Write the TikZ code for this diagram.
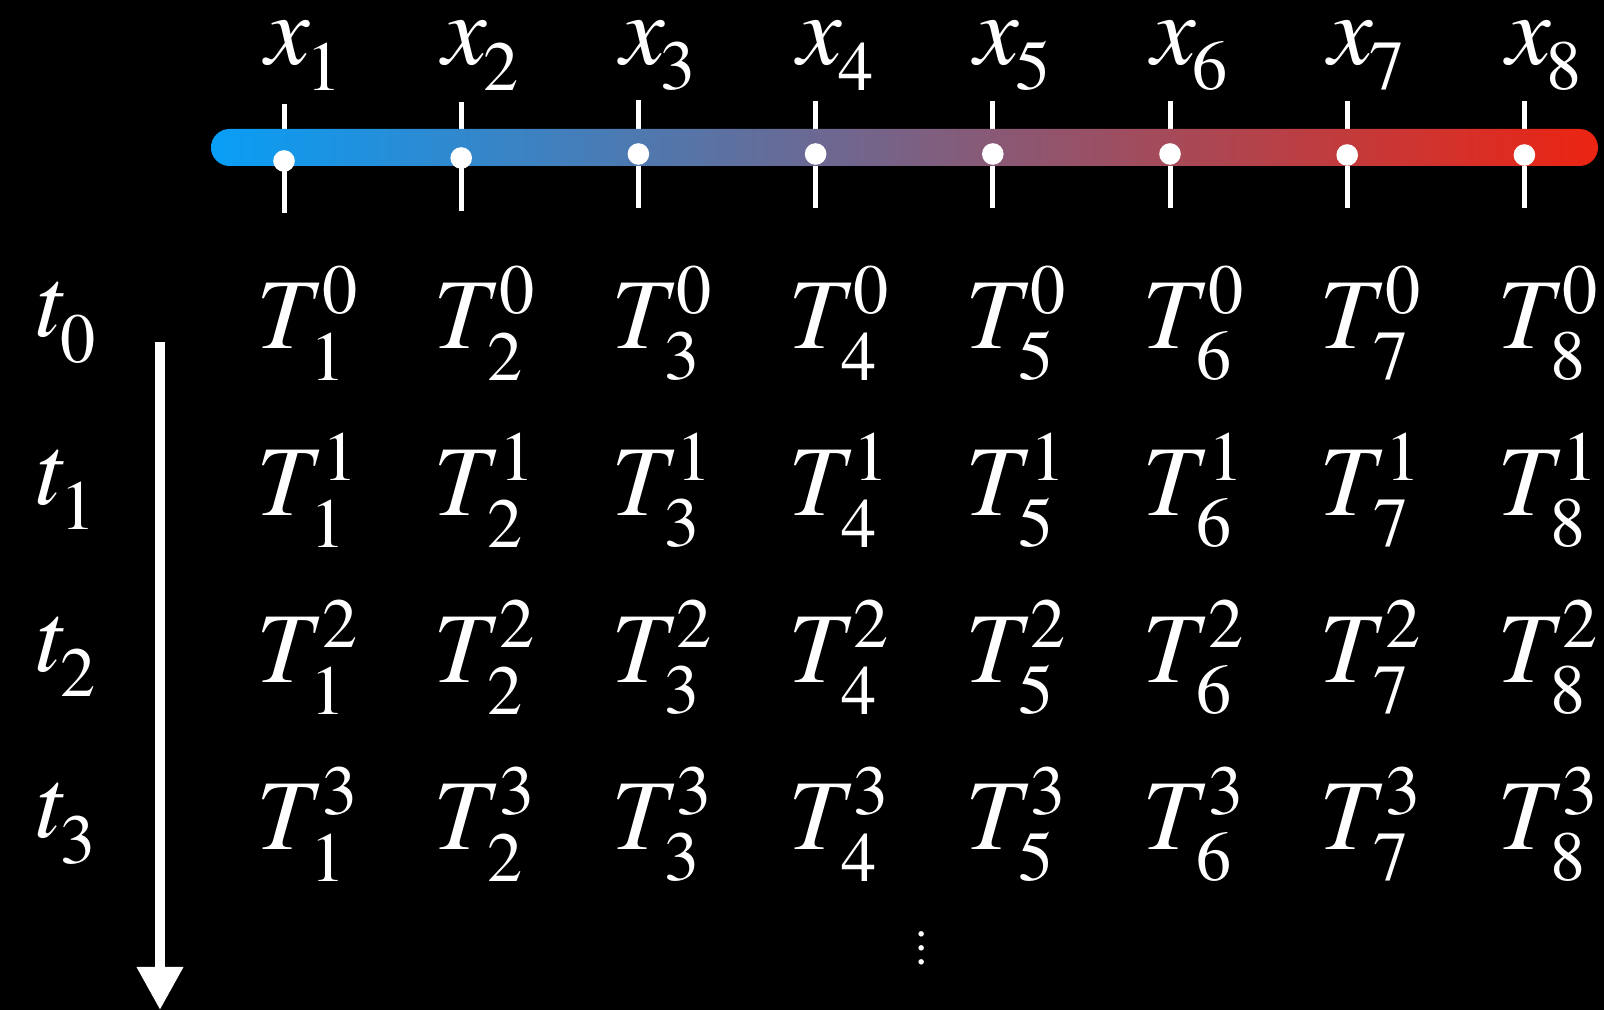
\RequirePackage{fix-cm}
\documentclass[tikz,border=0pt]{standalone}
\usepackage{fontspec}
\setmainfont{texgyretermes}[Extension=.otf, UprightFont=*-regular, ItalicFont=*-italic, BoldFont=*-bold, BoldItalicFont=*-bolditalic]
\usetikzlibrary{arrows.meta}

\definecolor{barbleu}{RGB}{8,158,246}
\definecolor{barrouge}{RGB}{236,36,18}

\newcommand{\petit}{\fontsize{20}{20}\selectfont}
\newcommand{\Tval}[2]{\textit{T}\kern-0.10em\rlap{\raisebox{-0.31em}{\petit #1}}\kern0.12em\raisebox{0.35em}{\petit #2}}
\newcommand{\xval}[1]{\textit{x}\kern-0.04em\raisebox{-0.25em}{\petit #1}}
\newcommand{\tval}[1]{\textit{t}\kern-0.04em\raisebox{-0.25em}{\petit #1}}

\begin{document}
\begin{tikzpicture}
        \tikzstyle{valeur} = [text=white, inner sep=0pt, font=\fontsize{28.5}{34}\selectfont, node distance=1.772cm]
        \tikzstyle{repere} = [draw=white, line width=0.05cm]
        \tikzstyle{point} = [fill=white]
        \tikzstyle{fleche} = [draw=white, line width=0.1cm, -{Triangle[length=0.43cm,width=0.44cm]}]
        \fill[black] (0,0) rectangle (16.04,10.10);
        \useasboundingbox (0,0) rectangle (16.04,10.10);

        \draw[repere] (2.84,9.06) -- (2.84,7.97);
        \draw[repere] (4.612,9.08) -- (4.612,7.99);
        \draw[repere] (6.384,9.10) -- (6.384,8.02);
        \draw[repere] (8.156,9.09) -- (8.156,8.02);
        \draw[repere] (9.928,9.09) -- (9.928,8.02);
        \draw[repere] (11.70,9.09) -- (11.70,8.02);
        \draw[repere] (13.472,9.09) -- (13.472,8.02);
        \draw[repere] (15.244,9.09) -- (15.244,8.02);
        \shade[left color=barbleu, right color=barrouge, rounded corners=0.185cm] (2.11,8.44) rectangle (15.98,8.81);
        \fill[point] (2.84,8.49) circle (0.108);
        \fill[point] (4.612,8.52) circle (0.108);
        \fill[point] (6.384,8.56) circle (0.108);
        \fill[point] (8.156,8.56) circle (0.108);
        \fill[point] (9.928,8.56) circle (0.108);
        \fill[point] (11.70,8.56) circle (0.108);
        \fill[point] (13.472,8.55) circle (0.108);
        \fill[point] (15.244,8.55) circle (0.108);

        \node (x1) [valeur, anchor=base west] at (2.65,9.45) {\xval{1}};
        \node (x2) [valeur, right of=x1] {\xval{2}};
        \node (x3) [valeur, right of=x2] {\xval{3}};
        \node (x4) [valeur, right of=x3] {\xval{4}};
        \node (x5) [valeur, right of=x4] {\xval{5}};
        \node (x6) [valeur, right of=x5] {\xval{6}};
        \node (x7) [valeur, right of=x6] {\xval{7}};
        \node (x8) [valeur, right of=x7] {\xval{8}};

        \node (t0) [valeur, anchor=base west] at (0.34,6.73) {\tval{0}};
        \node (t1) [valeur, below of=t0, yshift=0.102cm] {\tval{1}};
        \node (t2) [valeur, below of=t1, yshift=0.102cm] {\tval{2}};
        \node (t3) [valeur, below of=t2, yshift=0.102cm] {\tval{3}};

        \node (T01) [valeur, anchor=base west] at (2.56,6.61) {\Tval{1}{0}};
        \node (T02) [valeur, right of=T01] {\Tval{2}{0}};
        \node (T03) [valeur, right of=T02] {\Tval{3}{0}};
        \node (T04) [valeur, right of=T03] {\Tval{4}{0}};
        \node (T05) [valeur, right of=T04] {\Tval{5}{0}};
        \node (T06) [valeur, right of=T05] {\Tval{6}{0}};
        \node (T07) [valeur, right of=T06] {\Tval{7}{0}};
        \node (T08) [valeur, right of=T07] {\Tval{8}{0}};

        \node (T11) [valeur, below of=T01, yshift=0.102cm] {\Tval{1}{1}};
        \node (T12) [valeur, right of=T11] {\Tval{2}{1}};
        \node (T13) [valeur, right of=T12] {\Tval{3}{1}};
        \node (T14) [valeur, right of=T13] {\Tval{4}{1}};
        \node (T15) [valeur, right of=T14] {\Tval{5}{1}};
        \node (T16) [valeur, right of=T15] {\Tval{6}{1}};
        \node (T17) [valeur, right of=T16] {\Tval{7}{1}};
        \node (T18) [valeur, right of=T17] {\Tval{8}{1}};

        \node (T21) [valeur, below of=T11, yshift=0.102cm] {\Tval{1}{2}};
        \node (T22) [valeur, right of=T21] {\Tval{2}{2}};
        \node (T23) [valeur, right of=T22] {\Tval{3}{2}};
        \node (T24) [valeur, right of=T23] {\Tval{4}{2}};
        \node (T25) [valeur, right of=T24] {\Tval{5}{2}};
        \node (T26) [valeur, right of=T25] {\Tval{6}{2}};
        \node (T27) [valeur, right of=T26] {\Tval{7}{2}};
        \node (T28) [valeur, right of=T27] {\Tval{8}{2}};

        \node (T31) [valeur, below of=T21, yshift=0.102cm] {\Tval{1}{3}};
        \node (T32) [valeur, right of=T31] {\Tval{2}{3}};
        \node (T33) [valeur, right of=T32] {\Tval{3}{3}};
        \node (T34) [valeur, right of=T33] {\Tval{4}{3}};
        \node (T35) [valeur, right of=T34] {\Tval{5}{3}};
        \node (T36) [valeur, right of=T35] {\Tval{6}{3}};
        \node (T37) [valeur, right of=T36] {\Tval{7}{3}};
        \node (T38) [valeur, right of=T37] {\Tval{8}{3}};

        \node (suite) [valeur, anchor=base, font=\fontsize{14}{17}\selectfont] at (9.22,0.45) {$\vdots$};

        \coordinate (fleche_haut) at (1.60,6.68);
        \coordinate (fleche_bas) at (1.60,0);
        \draw[fleche] (fleche_haut) -- (fleche_bas);
    \end{tikzpicture}
\end{document}
